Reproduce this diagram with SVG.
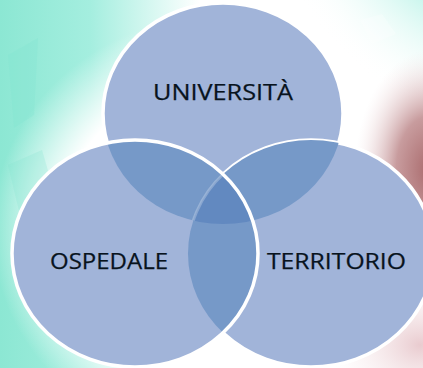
<svg xmlns="http://www.w3.org/2000/svg" width="423" height="368" viewBox="0 0 423 368">
<defs>
<linearGradient id="gMintL" x1="0" y1="0" x2="1" y2="0">
<stop offset="0" stop-color="#8ce7d3"/><stop offset="0.45" stop-color="#a4eedf"/><stop offset="1" stop-color="#ffffff"/>
</linearGradient>
<radialGradient id="gGlow" cx="0.5" cy="0.5" r="0.5">
<stop offset="0.7" stop-color="#ffffff"/><stop offset="1" stop-color="#ffffff" stop-opacity="0"/>
</radialGradient>
<radialGradient id="gMintTR" cx="1" cy="0" r="0.9">
<stop offset="0" stop-color="#8be8d6"/><stop offset="0.55" stop-color="#a9f0e2"/><stop offset="1" stop-color="#ffffff" stop-opacity="0"/>
</radialGradient>
<radialGradient id="gRed" cx="0.5" cy="0.5" r="0.5">
<stop offset="0" stop-color="#a96a6c"/><stop offset="0.45" stop-color="#c89c9e"/><stop offset="1" stop-color="#f4e4e6" stop-opacity="0"/>
</radialGradient>
<radialGradient id="gPink" cx="0.5" cy="0.5" r="0.5">
<stop offset="0" stop-color="#e9cbcf"/><stop offset="1" stop-color="#f8eef0" stop-opacity="0"/>
</radialGradient>
<radialGradient id="gShade" cx="0.5" cy="0" r="0.5">
<stop offset="0" stop-color="#7d8386" stop-opacity="0.75"/><stop offset="1" stop-color="#ffffff" stop-opacity="0"/>
</radialGradient>
<clipPath id="cTop"><ellipse cx="223" cy="113.5" rx="120" ry="110.5"/></clipPath>
<clipPath id="cLeft"><ellipse cx="135" cy="253.5" rx="123" ry="113.5"/></clipPath>
<style>
.fill{fill:#a1b4d9}
.lens{fill:#7699c8}
.tri{fill:#6289c0}
.rim{fill:none;stroke:#ffffff;stroke-width:3.5}
.lbl{font-family:"Open Sans","Liberation Sans",sans-serif;font-size:22px;fill:#08131d;stroke:#08131d;stroke-width:0.25;text-anchor:middle}
</style>
</defs>
<g id="background">
<rect width="423" height="368" fill="#ffffff"/>
<rect x="0" y="0" width="200" height="368" fill="url(#gMintL)"/>
<rect x="230" y="-140" width="300" height="300" fill="url(#gMintTR)"/>
<ellipse cx="222" cy="230" rx="230" ry="215" fill="url(#gGlow)"/>
<ellipse cx="430" cy="170" rx="75" ry="120" fill="url(#gRed)"/>
<ellipse cx="420" cy="345" rx="90" ry="70" fill="url(#gPink)"/>
<ellipse cx="325" cy="0" rx="40" ry="9" fill="url(#gShade)"/>
<ellipse cx="423" cy="0" rx="25" ry="10" fill="url(#gShade)"/>
<polygon points="8,55 38,38 34,115 14,128" fill="#82e5d0" opacity="0.3"/>
<polygon points="8,165 42,150 55,195 20,215" fill="#82e5d0" opacity="0.25"/>
<polygon points="360,20 382,14 396,34 372,44" fill="#ffffff" opacity="0.25"/>
</g>
<g id="node-universita">
<ellipse class="fill" cx="223" cy="113.5" rx="120" ry="110.5"/>
<ellipse class="rim" cx="223" cy="113.5" rx="120" ry="110.5"/>
</g>
<g id="node-territorio">
<ellipse class="fill" cx="311" cy="253.5" rx="123" ry="113.5"/>
<ellipse class="rim" cx="311" cy="253.5" rx="123" ry="113.5"/>
</g>
<g id="node-ospedale">
<ellipse class="fill" cx="135" cy="253.5" rx="123" ry="113.5"/>
</g>
<g id="overlaps">
<g clip-path="url(#cTop)"><ellipse class="lens" cx="135" cy="253.5" rx="123" ry="113.5"/><ellipse class="lens" cx="311" cy="253.5" rx="123" ry="113.5"/></g>
<g clip-path="url(#cLeft)"><ellipse class="lens" cx="311" cy="253.5" rx="123" ry="113.5"/></g>
<g clip-path="url(#cTop)"><g clip-path="url(#cLeft)"><ellipse class="tri" cx="311" cy="253.5" rx="123" ry="113.5"/></g></g>
<g clip-path="url(#cTop)"><g clip-path="url(#cLeft)"><ellipse cx="311" cy="253.5" rx="123" ry="113.5" fill="none" stroke="#ffffff" stroke-opacity="0.25" stroke-width="3"/></g></g>
</g>
<g id="rim-ospedale">
<ellipse class="rim" cx="135" cy="253.5" rx="123" ry="113.5"/>
</g>
<g id="labels">
<text class="lbl" x="223" y="100" textLength="140" lengthAdjust="spacingAndGlyphs">UNIVERSITÀ</text>
<text class="lbl" x="109" y="269" textLength="118" lengthAdjust="spacingAndGlyphs">OSPEDALE</text>
<text class="lbl" x="336.5" y="269" textLength="139" lengthAdjust="spacingAndGlyphs">TERRITORIO</text>
</g>
</svg>
